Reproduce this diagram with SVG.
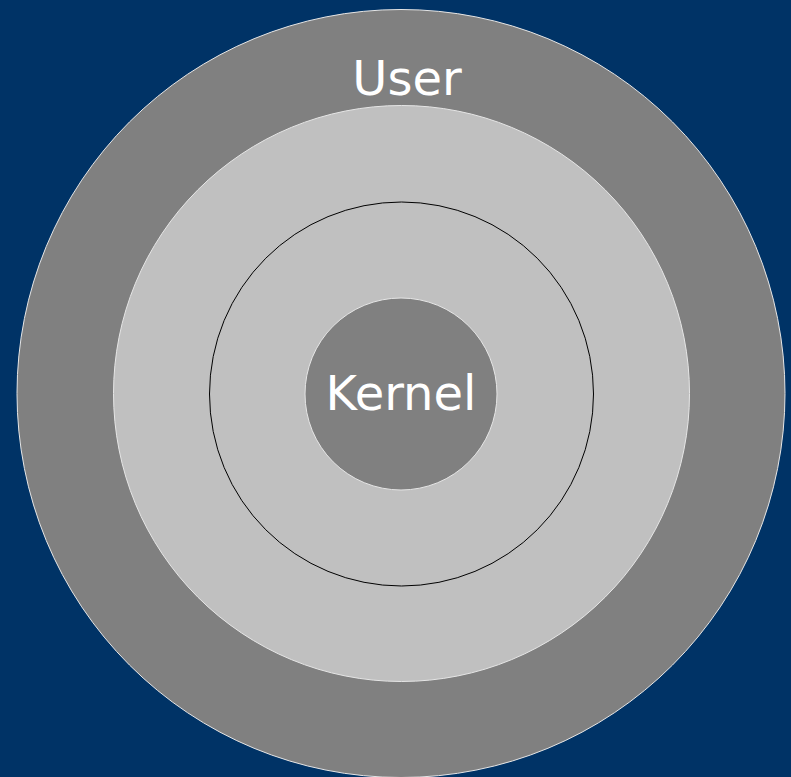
<svg xmlns="http://www.w3.org/2000/svg" width="791" height="777" viewBox="0 0 791 777">
  <style>
    .ring { stroke: #e6e6e6; stroke-width: 1; }
    .dark { fill: #808080; }
    .light { fill: #c0c0c0; }
    .label { font-family: "DejaVu Sans", "Liberation Sans", sans-serif; font-size: 48px; fill: #ffffff; text-anchor: middle; }
  </style>
  <rect width="791" height="777" fill="#003366"/>
  <g id="user">
    <circle class="ring dark" cx="401" cy="393.5" r="384"/>
    <text class="label" x="407" y="95">User</text>
  </g>
  <g id="middle">
    <circle class="ring light" cx="401.5" cy="393.5" r="288"/>
  </g>
  <g id="inner-ring">
    <circle cx="401.5" cy="394" r="192" fill="none" stroke="#000000" stroke-width="1"/>
  </g>
  <g id="kernel">
    <circle class="ring dark" cx="401" cy="394" r="96"/>
    <text class="label" x="401" y="410">Kernel</text>
  </g>
</svg>
